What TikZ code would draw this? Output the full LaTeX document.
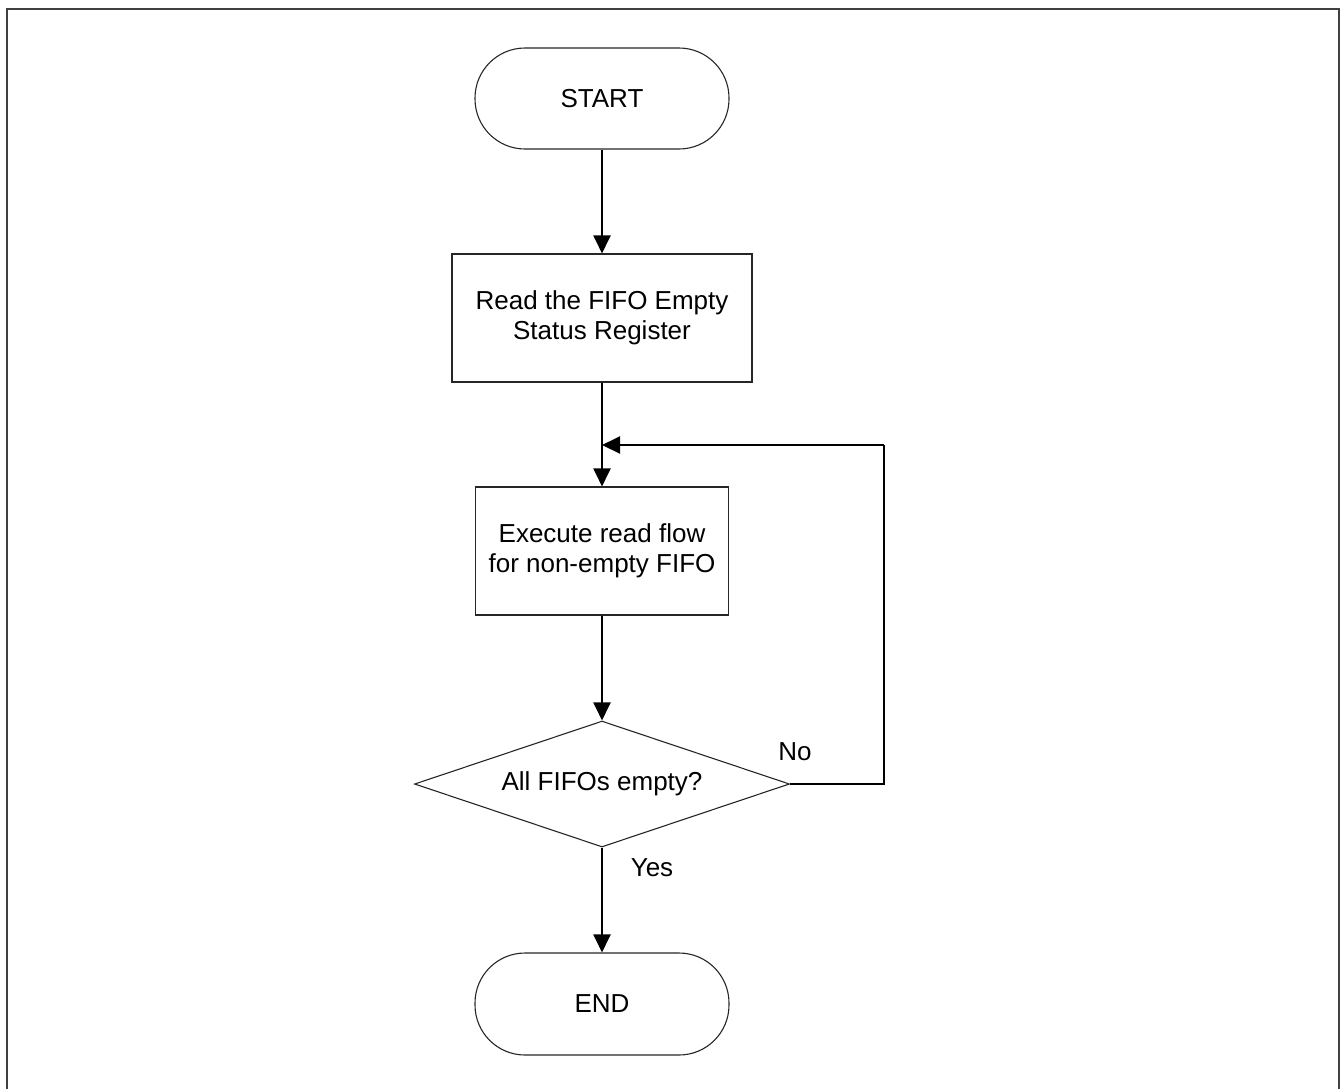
\documentclass[tikz,border=0pt]{standalone}
\usepackage{fontspec}
\setmainfont{Liberation Sans}
\usetikzlibrary{shapes.geometric,arrows.meta}
\begin{document}
\begin{tikzpicture}[x=1pt,y=-1pt,
  every node/.style={font=\fontsize{26}{30}\selectfont, text=black},
  terminal/.style={draw=black!85, line width=1.1pt, rounded corners=50pt, minimum width=254pt, minimum height=101pt, inner sep=0pt},
  procbox/.style={draw=black!85, line width=1.1pt, minimum height=128pt, inner sep=0pt, align=center},
  decision/.style={draw=black!85, line width=1.1pt, shape=diamond, shape aspect=2.98, minimum width=375pt, minimum height=126pt, inner sep=0pt},
  conn/.style={line width=2pt, black},
  arr/.style={conn, -{Triangle[length=18pt,width=17pt]}},
  lbl/.style={inner sep=0pt}
]
\useasboundingbox (0,0) rectangle (1341,1088);
\draw[line width=2.2pt, black!75] (7,1090) -- (7,9) -- (1339,9) -- (1339,1090);

\node[terminal] (start) at (602,98.5) {START};
\node[procbox, minimum width=300pt] (read) at (602,318) {Read the FIFO Empty\\Status Register};
\node[procbox, minimum width=253pt] (exec) at (602,551) {Execute read flow\\for non-empty FIFO};
\node[decision] (dec) at (602,784) {All FIFOs empty?};
\node[terminal, minimum height=102pt] (end) at (602,1004) {END};

\coordinate (join) at (602,445);
\coordinate (rc) at (884,784);
\coordinate (rt) at (884,445);

\draw[arr] (start.south) -- (read.north);
\draw[arr] (read.south) -- (exec.north);
\draw[arr] (exec.south) -- (dec.north);
\draw[arr] (dec.south) -- (end.north);
\draw[conn] (dec.east) -- (rc) -- (rt);
\draw[arr] (rt) -- (join);

\node[lbl] (no) at (795,752) {No};
\node[lbl] (yes) at (652,868) {Yes};
\end{tikzpicture}
\end{document}
